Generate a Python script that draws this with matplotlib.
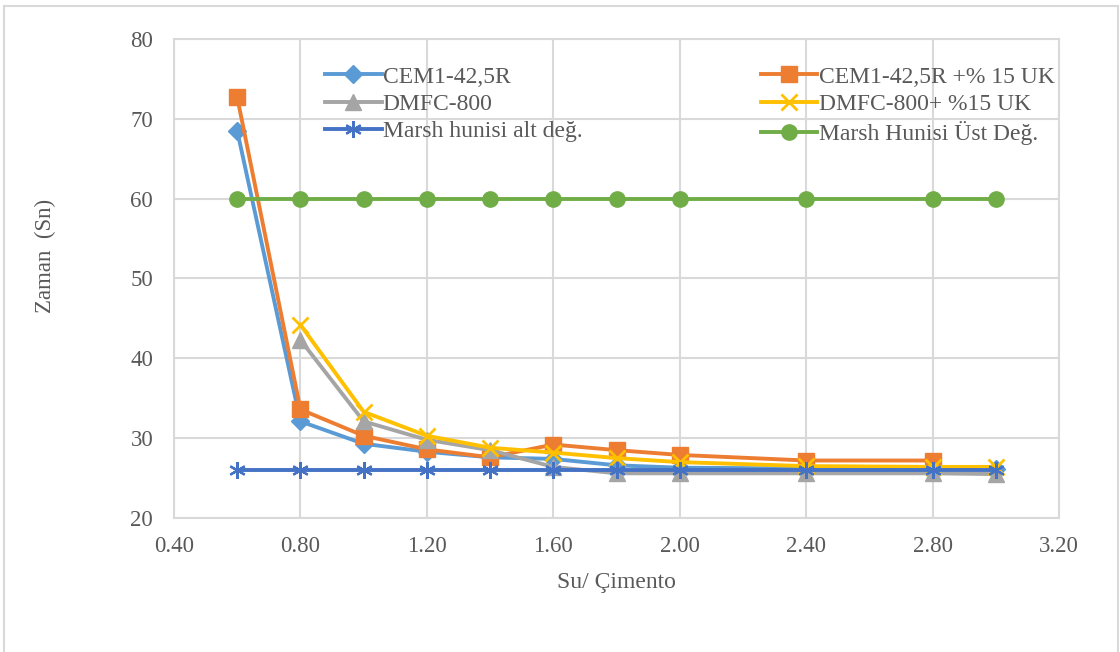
import matplotlib
matplotlib.use("Agg")
import matplotlib.pyplot as plt
from matplotlib.lines import Line2D

plt.rcParams['font.family'] = ['Liberation Serif', 'DejaVu Serif']

x_all = [0.6, 0.8, 1.0, 1.2, 1.4, 1.6, 1.8, 2.0, 2.4, 2.8, 3.0]
x_from08 = [0.8, 1.0, 1.2, 1.4, 1.6, 1.8, 2.0, 2.4, 2.8, 3.0]
x_orange = [0.6, 0.8, 1.0, 1.2, 1.4, 1.6, 1.8, 2.0, 2.4, 2.8]

cem1 = [68.5, 32.1, 29.3, 28.3, 27.6, 27.4, 26.6, 26.3, 26.2, 26.2, 26.1]
cem1_uk = [72.7, 33.6, 30.3, 28.6, 27.6, 29.2, 28.5, 27.9, 27.2, 27.2]
dmfc = [42.3, 32.1, 29.8, 28.5, 26.4, 25.6, 25.6, 25.6, 25.6, 25.5]
dmfc_uk = [44.2, 33.3, 30.3, 28.8, 28.2, 27.5, 27.0, 26.5, 26.4, 26.4]
marsh_alt = [26] * 11
marsh_ust = [60] * 11

labels = ["CEM1-42,5R", "CEM1-42,5R +% 15 UK", "DMFC-800", "DMFC-800+ %15 UK",
          "Marsh hunisi alt değ.", "Marsh Hunisi Üst Değ."]
xticks = [0.40, 0.80, 1.20, 1.60, 2.00, 2.40, 2.80, 3.20]
yticks = [20, 30, 40, 50, 60, 70, 80]

fig = plt.figure(figsize=(11.2, 6.52), dpi=100)
ax = fig.add_axes([174/1120, 1-518/652, (1059-174)/1120, (518-39)/652])

lw = 2.8
h1, = ax.plot(x_all, cem1, color='#5B9BD5', marker='D', ms=9, lw=lw, label=labels[0])
h2, = ax.plot(x_orange, cem1_uk, color='#ED7D31', marker='s', ms=12, lw=lw, label=labels[1])
h3, = ax.plot(x_from08, dmfc, color='#A5A5A5', marker='^', ms=12, lw=lw, label=labels[2])
h4, = ax.plot(x_from08, dmfc_uk, color='#FFC000', marker='x', ms=11, mew=2, lw=lw, label=labels[3])
h5, = ax.plot(x_all, marsh_alt, color='#4472C4', marker=(6, 2, 0), ms=12, mew=1.6, lw=lw, label=labels[4])
h6, = ax.plot(x_all, marsh_ust, color='#70AD47', marker='o', ms=11, lw=lw, label=labels[5])

ax.set_xlim(0.4, 3.2)
ax.set_ylim(20, 80)
ax.set_xticks(xticks)
ax.set_xticklabels([f"{v:.2f}" for v in xticks])
ax.set_yticks(yticks)
ax.grid(True, color='#D9D9D9', lw=1.5)
ax.set_axisbelow(True)
for s in ax.spines.values():
    s.set_color('#D9D9D9')
    s.set_linewidth(1.5)
ax.tick_params(axis='both', length=0, labelsize=16.5, colors='#595959')
ax.tick_params(axis='y', pad=15)
ax.tick_params(axis='x', pad=13)

ax.set_xlabel("Su/ Çimento", fontsize=17, color='#595959')
ax.xaxis.set_label_coords(0.5, -0.113)
ax.set_ylabel("Zaman  (Sn)", fontsize=16.5, color='#595959')
ax.yaxis.set_label_coords(-0.133, 0.547)

leg = ax.legend(handles=[h1, h3, h5, h2, h4, h6], ncol=2, loc='upper left',
                bbox_to_anchor=(0.1706, 0.9435), frameon=False, fontsize=17,
                columnspacing=7.55, handlelength=2.4, handletextpad=0.05,
                labelspacing=0.25, borderaxespad=0, borderpad=0)
for t in leg.get_texts():
    t.set_color('#595959')

# outer chart frame
fig.add_artist(Line2D([4/1120, 4/1120], [0, 1-6/652], color='#D9D9D9', lw=1.5, transform=fig.transFigure))
fig.add_artist(Line2D([1118/1120, 1118/1120], [0, 1-6/652], color='#D9D9D9', lw=1.5, transform=fig.transFigure))
fig.add_artist(Line2D([4/1120, 1118/1120], [1-6/652, 1-6/652], color='#D9D9D9', lw=1.5, transform=fig.transFigure))

fig.savefig("out.png", dpi=100)
